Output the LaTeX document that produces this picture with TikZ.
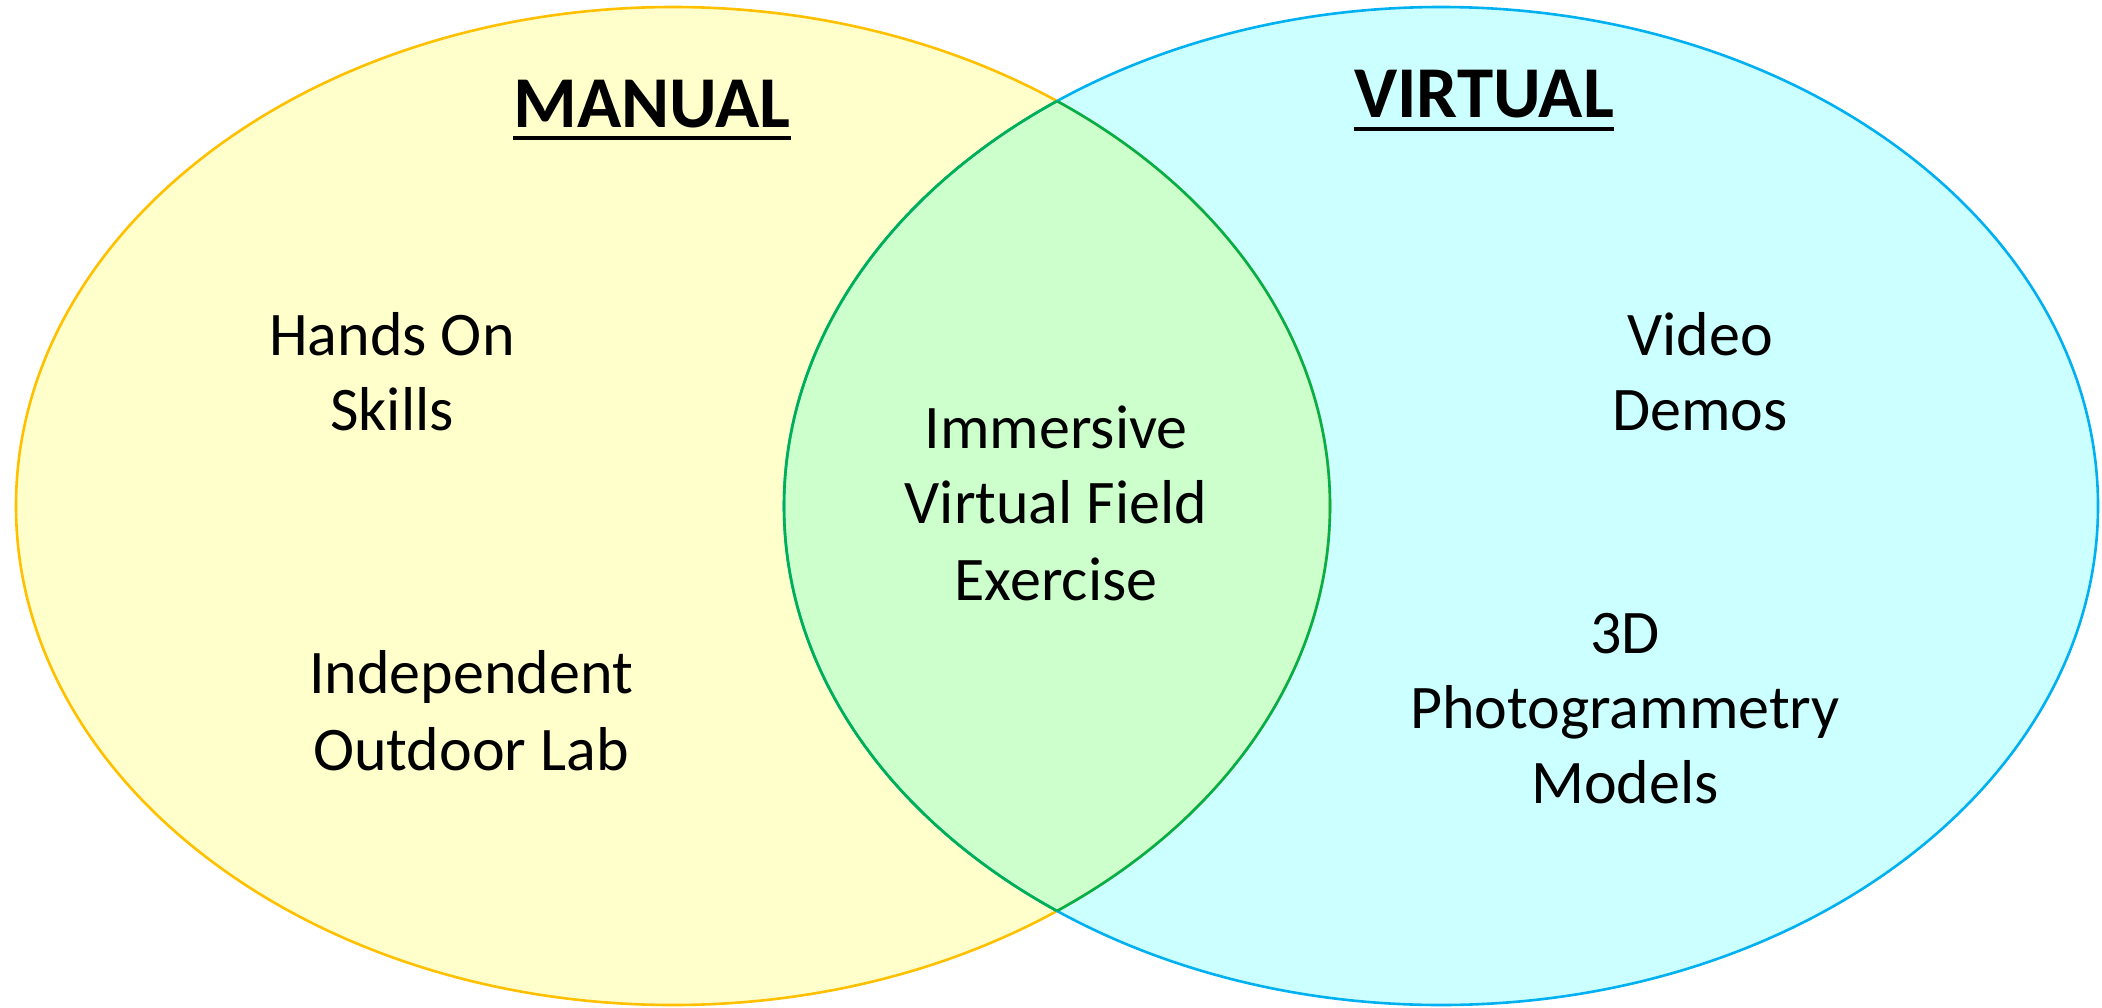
\documentclass[tikz,border=0pt]{standalone}
\usepackage{fontspec}
\setmainfont{Carlito}
\definecolor{manfill}{HTML}{FFFFCC}
\definecolor{manline}{HTML}{FFC000}
\definecolor{virfill}{HTML}{CCFFFF}
\definecolor{virline}{HTML}{00B0F0}
\definecolor{bothfill}{HTML}{CCFFCC}
\definecolor{bothline}{HTML}{00B050}
\tikzset{
  lbl/.style={anchor=base, inner sep=0pt, font=\fontsize{62}{75}\selectfont},
  title/.style={anchor=base, inner sep=0pt, font=\fontsize{73}{88}\selectfont\bfseries},
  rule/.style={line width=3.5pt},
  outline/.style={line width=2.6pt}
}
\begin{document}
\begin{tikzpicture}[x=1pt,y=-1pt]
\useasboundingbox (0,0) rectangle (2102,1007);
% the two sets
\def\manellipse{(673,506) ellipse [x radius=657, y radius=499]}
\def\virellipse{(1441,506) ellipse [x radius=657, y radius=499]}
\fill[manfill] \manellipse;
\fill[virfill] \virellipse;
\begin{scope}
  \clip \manellipse;
  \fill[bothfill] \virellipse;
\end{scope}
\draw[outline, manline] \manellipse;
\draw[outline, virline] \virellipse;
% lens of the overlap
\begin{scope}
  \clip \manellipse;
  \draw[outline, bothline] \virellipse;
\end{scope}
\begin{scope}
  \clip \virellipse;
  \draw[outline, bothline] \manellipse;
\end{scope}
% headings
\node[title] (man) at (652,127) {MANUAL};
\draw[rule] ([yshift=-11pt]man.base west) -- ([yshift=-11pt]man.base east);
\node[title] (vir) at (1484,117) {VIRTUAL};
\draw[rule] ([yshift=-12pt]vir.base west) -- ([yshift=-12pt]vir.base east);
% manual items
\node[lbl] (hands1) at (392,355) {Hands On};
\node[lbl] (hands2) at (392,430) {Skills};
\node[lbl] (indep1) at (471,693) {Independent};
\node[lbl] (indep2) at (471,770) {Outdoor Lab};
% shared item
\node[lbl] (imm1) at (1056,448) {Immersive};
\node[lbl] (imm2) at (1056,523) {Virtual Field};
\node[lbl] (imm3) at (1056,600) {Exercise};
% virtual items
\node[lbl] (vid1) at (1700,355) {Video};
\node[lbl] (vid2) at (1700,430) {Demos};
\node[lbl] (ph1) at (1625,653) {3D};
\node[lbl] (ph2) at (1625,728) {Photogrammetry};
\node[lbl] (ph3) at (1625,803) {Models};
\end{tikzpicture}
\end{document}
